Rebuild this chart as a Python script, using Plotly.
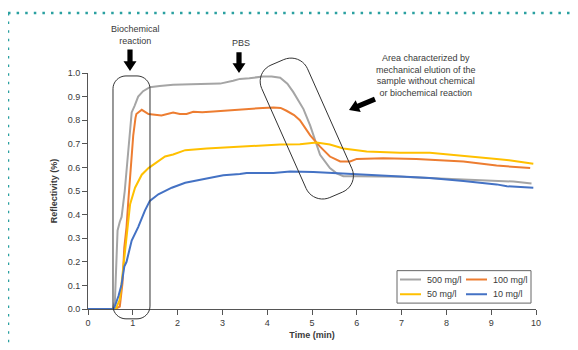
import math
import plotly.graph_objects as go

# ---------------- data ----------------
series_names = ["500 mg/l", "100 mg/l", "50 mg/l", "10 mg/l"]
series_colors = ["#a5a5a5", "#ed7d31", "#ffc000", "#4472c4"]

t_500 = [0, 0.55, 0.6, 0.63, 0.66, 0.71, 0.75, 0.82, 0.9, 0.975, 1.04, 1.12, 1.23, 1.38, 1.6, 1.9,
         2.3, 2.65, 2.95, 3.24, 3.39, 3.6, 3.91, 4.1, 4.29, 4.45, 4.58, 4.81, 4.96, 5.18, 5.4,
         5.55, 5.7, 6.0, 6.5, 7.0, 7.6, 8.4, 9.0, 9.5, 9.9]
y_500 = [0, 0, 0.03, 0.2, 0.333, 0.37, 0.39, 0.5, 0.667, 0.833, 0.861, 0.9, 0.923, 0.94, 0.945, 0.95,
         0.952, 0.953, 0.955, 0.967, 0.975, 0.978, 0.985, 0.985, 0.98, 0.955, 0.92, 0.847, 0.777,
         0.653, 0.597, 0.575, 0.563, 0.562, 0.562, 0.56, 0.555, 0.55, 0.545, 0.54, 0.532]

t_100 = [0, 0.6, 0.71, 0.77, 0.81, 0.86, 0.9, 0.95, 1.01, 1.06, 1.08, 1.2, 1.35, 1.64, 1.9, 2.05,
         2.2, 2.35, 2.55, 2.8, 3.17, 3.54, 3.9, 4.14, 4.3, 4.43, 4.6, 4.73, 4.96, 5.18, 5.4, 5.63,
         5.85, 6.0, 6.59, 7.33, 7.86, 8.38, 9.12, 9.5, 9.87]
y_100 = [0, 0, 0.01, 0.11, 0.26, 0.347, 0.458, 0.58, 0.736, 0.81, 0.826, 0.844, 0.826, 0.82, 0.833, 0.826,
         0.826, 0.836, 0.834, 0.837, 0.843, 0.847, 0.852, 0.854, 0.852, 0.84, 0.822, 0.8, 0.736, 0.688,
         0.646, 0.625, 0.625, 0.636, 0.639, 0.636, 0.632, 0.625, 0.608, 0.602, 0.597]

t_50 = [0, 0.62, 0.71, 0.79, 0.86, 0.94, 1.05, 1.2, 1.35, 1.57, 1.72, 1.9, 2.17, 2.65, 3.1, 3.54,
        4.29, 4.73, 5.1, 5.4, 5.7, 6.22, 6.96, 7.63, 8.38, 9.12, 9.4, 9.94]
y_50 = [0, 0, 0.04, 0.18, 0.32, 0.444, 0.514, 0.569, 0.597, 0.625, 0.646, 0.655, 0.673, 0.68, 0.685, 0.69,
        0.697, 0.698, 0.705, 0.697, 0.68, 0.667, 0.662, 0.662, 0.65, 0.636, 0.63, 0.615]

t_10 = [0, 0.56, 0.59, 0.68, 0.75, 0.81, 0.86, 0.975, 1.12, 1.27, 1.38, 1.57, 1.87, 2.17, 2.65, 3.02,
        3.39, 3.54, 4.14, 4.51, 5.03, 5.47, 6.22, 6.96, 7.63, 8.38, 9.12, 9.35, 9.94]
y_10 = [0, 0, 0.007, 0.055, 0.104, 0.18, 0.2, 0.29, 0.347, 0.417, 0.458, 0.486, 0.514, 0.535, 0.553, 0.567,
        0.572, 0.576, 0.576, 0.583, 0.58, 0.576, 0.569, 0.5625, 0.555, 0.542, 0.528, 0.52, 0.514]

x_ticks = [0, 1, 2, 3, 4, 5, 6, 7, 8, 9, 10]
y_ticks = [0.0, 0.1, 0.2, 0.3, 0.4, 0.5, 0.6, 0.7, 0.8, 0.9, 1.0]

# ---------------- layout helpers (reference pixel -> paper) ----------------
W, H = 578, 350
OFF = 8  # page body margin offset
PL, PR, PT, PB = 88, 536, 73, 313


def pxx(x):
    return (x - PL) / (PR - PL)


def pxy(y):
    return (PB - y) / (PB - PT)


def poly_path(points):
    s = "M {:.5f},{:.5f} ".format(pxx(points[0][0]), pxy(points[0][1]))
    for x, y in points[1:]:
        s += "L {:.5f},{:.5f} ".format(pxx(x), pxy(y))
    return s + "Z"


def rounded_rect(cx, cy, w, h, r, ang_deg=0.0, n=10):
    a = math.radians(ang_deg)
    ca, sa = math.cos(a), math.sin(a)
    corners = [(w / 2 - r, -h / 2 + r, -90), (w / 2 - r, h / 2 - r, 0),
               (-w / 2 + r, h / 2 - r, 90), (-w / 2 + r, -h / 2 + r, 180)]
    pts = []
    for (ox, oy, start) in corners:
        for i in range(n + 1):
            th = math.radians(start + 90 * i / n)
            lx, ly = ox + r * math.cos(th), oy + r * math.sin(th)
            pts.append((cx + lx * ca - ly * sa, cy + lx * sa + ly * ca))
    return poly_path(pts)


def arrow(tx, ty, hx, hy, shaft=2.6, head=6.5, headlen=10):
    dx, dy = hx - tx, hy - ty
    L = math.hypot(dx, dy)
    ux, uy = dx / L, dy / L
    nx, ny = -uy, ux
    bx, by = hx - ux * headlen, hy - uy * headlen
    pts = [(tx + nx * shaft, ty + ny * shaft), (bx + nx * shaft, by + ny * shaft),
           (bx + nx * head, by + ny * head), (hx, hy),
           (bx - nx * head, by - ny * head), (bx - nx * shaft, by - ny * shaft),
           (tx - nx * shaft, ty - ny * shaft)]
    return poly_path(pts)


fig = go.Figure()
for name, color, tx, ty in zip(series_names, series_colors,
                               [t_500, t_100, t_50, t_10], [y_500, y_100, y_50, y_10]):
    fig.add_trace(go.Scatter(x=tx, y=ty, mode="lines", name=name, showlegend=False,
                             line=dict(color=color, width=2)))

FONT = "Liberation Sans, Arial, sans-serif"
TXT = "#3a3a3a"

shapes = []
annotations = []

# dotted teal frame (top + left)
teal = "#2aa0a0"
shapes.append(dict(type="line", xref="paper", yref="paper", x0=pxx(8), y0=pxy(12), x1=pxx(578), y1=pxy(12),
                   line=dict(color=teal, width=2.5, dash="2.5px,6.1px")))
shapes.append(dict(type="line", xref="paper", yref="paper", x0=pxx(8), y0=pxy(12), x1=pxx(8), y1=pxy(350),
                   line=dict(color=teal, width=2.5, dash="2.5px,6.1px")))

# rounded outlines
shapes.append(dict(type="path", xref="paper", yref="paper", path=rounded_rect(131.5, 199.5, 37, 247, 13),
                   line=dict(color="#333333", width=1)))
shapes.append(dict(type="path", xref="paper", yref="paper",
                   path=rounded_rect(306.8, 129.5, 50, 147, 18, -23.6),
                   line=dict(color="#333333", width=1)))

# arrows
for tx_, ty_, hx_, hy_ in [(130, 49, 130, 71), (239, 52, 239, 73), (375, 99.5, 349, 110.5)]:
    shapes.append(dict(type="path", xref="paper", yref="paper", path=arrow(tx_, ty_, hx_, hy_),
                       fillcolor="#000000", line=dict(width=0)))

# text notes
notes = [("Biochemical<br>reaction", 135, 34), ("PBS", 241, 42),
         ("Area characterized by<br>mechanical elution of the<br>sample without chemical<br>or biochemical reaction", 425.5, 75.5)]
for txt, x, y in notes:
    annotations.append(dict(text=txt, xref="paper", yref="paper", x=pxx(x), y=pxy(y), xanchor="center",
                            yanchor="middle", showarrow=False, font=dict(family=FONT, size=9, color=TXT)))

# manual legend
shapes.append(dict(type="rect", xref="paper", yref="paper", x0=pxx(397), x1=pxx(531), y0=pxy(274), y1=pxy(307),
                   line=dict(color="#666666", width=1), fillcolor="white"))
leg_pos = [(400, 283), (466, 283), (400, 298), (466, 298)]
for name, color, (lx, ly) in zip(series_names, series_colors, leg_pos):
    shapes.append(dict(type="line", xref="paper", yref="paper", x0=pxx(lx), x1=pxx(lx + 21), y0=pxy(ly), y1=pxy(ly),
                       line=dict(color=color, width=2)))
    annotations.append(dict(text=name, xref="paper", yref="paper", x=pxx(lx + 25), y=pxy(ly), xanchor="left",
                            yanchor="middle", showarrow=False, font=dict(family=FONT, size=9, color=TXT)))

fig.update_layout(
    width=W - OFF, height=H - OFF,
    margin=dict(l=PL - OFF, r=W - PR, t=PT - OFF, b=H - PB - OFF),
    paper_bgcolor="white", plot_bgcolor="white",
    font=dict(family=FONT, size=9, color=TXT),
    shapes=shapes, annotations=annotations,
    xaxis=dict(range=[0, 10], tickvals=x_ticks, ticktext=[str(v) for v in x_ticks], showgrid=False,
               zeroline=False, showline=True, linecolor="#555555", linewidth=1, ticks="outside",
               ticklen=5, tickcolor="#555555", tickfont=dict(size=9, color=TXT),
               title=dict(text="<b>Time (min)</b>", font=dict(size=9, color=TXT), standoff=4)),
    yaxis=dict(range=[0, 1.0], tickvals=y_ticks, ticktext=["{:.1f}".format(v) for v in y_ticks],
               showgrid=False, zeroline=False, showline=True, linecolor="#555555", linewidth=1,
               ticks="outside", ticklen=5, tickcolor="#555555", tickfont=dict(size=9, color=TXT),
               title=dict(text="<b>Reflectivity (%)</b>", font=dict(size=9, color=TXT), standoff=8)),
)

fig.write_html("out.html")
